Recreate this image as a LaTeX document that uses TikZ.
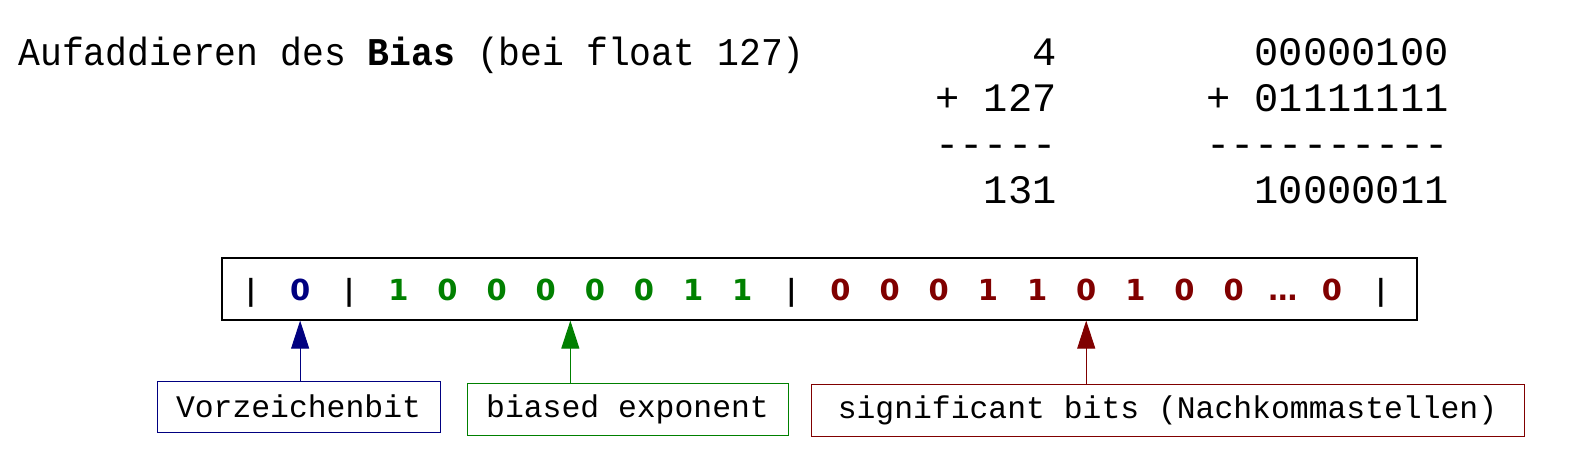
\documentclass[tikz,border=0pt]{standalone}
\usepackage{fontspec}
\setmonofont{Liberation Mono}
\newfontfamily\bitfont{DejaVu Sans}
\usetikzlibrary{arrows.meta,calc}
\definecolor{signblue}{RGB}{0,0,128}
\definecolor{expgreen}{RGB}{0,128,0}
\definecolor{mantred}{RGB}{128,0,0}
\tikzset{
  plain/.style = {inner sep=0pt, font=\ttfamily\fontsize{20.2}{22}\selectfont},
  bit/.style = {inner sep=0pt, anchor=base, font=\bitfont\bfseries\fontsize{14.5}{15}\selectfont},
  lbl_box/.style = {draw, line width=0.5pt, inner sep=0pt, text=black, font=\ttfamily\fontsize{15.7}{16}\selectfont},
  field_arrow/.style = {line width=0.5pt, -{Triangle[length=14pt,width=9pt]}},
}

\begin{document}
\begin{tikzpicture}[x=0.5pt, y=-0.5pt]
  \useasboundingbox (0,0) rectangle (1594,454);

  % heading
  \node [plain, anchor=base west, font=\ttfamily\fontsize{18.2}{20}\selectfont, yscale=1.08] (title) at (18,66)
    {Aufaddieren des \textbf{Bias} (bei float 127)};

  % addition, decimal and binary
  \foreach \dec/\bin [count=\i from 0] in {4/00000100, + 127/+ 01111111, -----/----------, 131/10000011}{
    \node [plain, anchor=base east] (dec\i) at (1057, 66+45.67*\i) {\dec};
    \node [plain, anchor=base east] (bin\i) at (1449, 66+45.67*\i) {\bin};
  }

  % the 32 bit word
  \node [draw, line width=0.6pt, minimum width=597.5pt, minimum height=31pt, inner sep=0pt] (word) at (819.5,289) {};
  \foreach \t/\c [count=\i from 0] in {|/black, 0/signblue, |/black,
      1/expgreen, 0/expgreen, 0/expgreen, 0/expgreen, 0/expgreen, 0/expgreen, 1/expgreen, 1/expgreen, |/black,
      0/mantred, 0/mantred, 0/mantred, 1/mantred, 1/mantred, 0/mantred, 1/mantred, 0/mantred, 0/mantred,
      …/mantred, 0/mantred, |/black}{
    \node [bit, text=\c] (b\i) at ({251+49.13*\i}, 300) {\t};
  }
  \coordinate (expmid) at ($(b6)!0.5!(b7)$);

  % field labels
  \node [lbl_box, draw=signblue, minimum width=141.5pt, minimum height=25.5pt] (vz) at (298.5,406.5) {Vorzeichenbit};
  \node [lbl_box, draw=expgreen, minimum width=160.5pt, minimum height=26pt] (be) at (627.5,409) {biased exponent};
  \node [lbl_box, draw=mantred, minimum width=356.5pt, minimum height=26pt] (sb) at (1167.5,410) {significant bits (Nachkommastellen)};

  \draw [field_arrow, signblue] (b1 |- vz.north) -- (b1 |- word.south);
  \draw [field_arrow, expgreen] (expmid |- be.north) -- (expmid |- word.south);
  \draw [field_arrow, mantred] (b17 |- sb.north) -- (b17 |- word.south);
\end{tikzpicture}
\end{document}
